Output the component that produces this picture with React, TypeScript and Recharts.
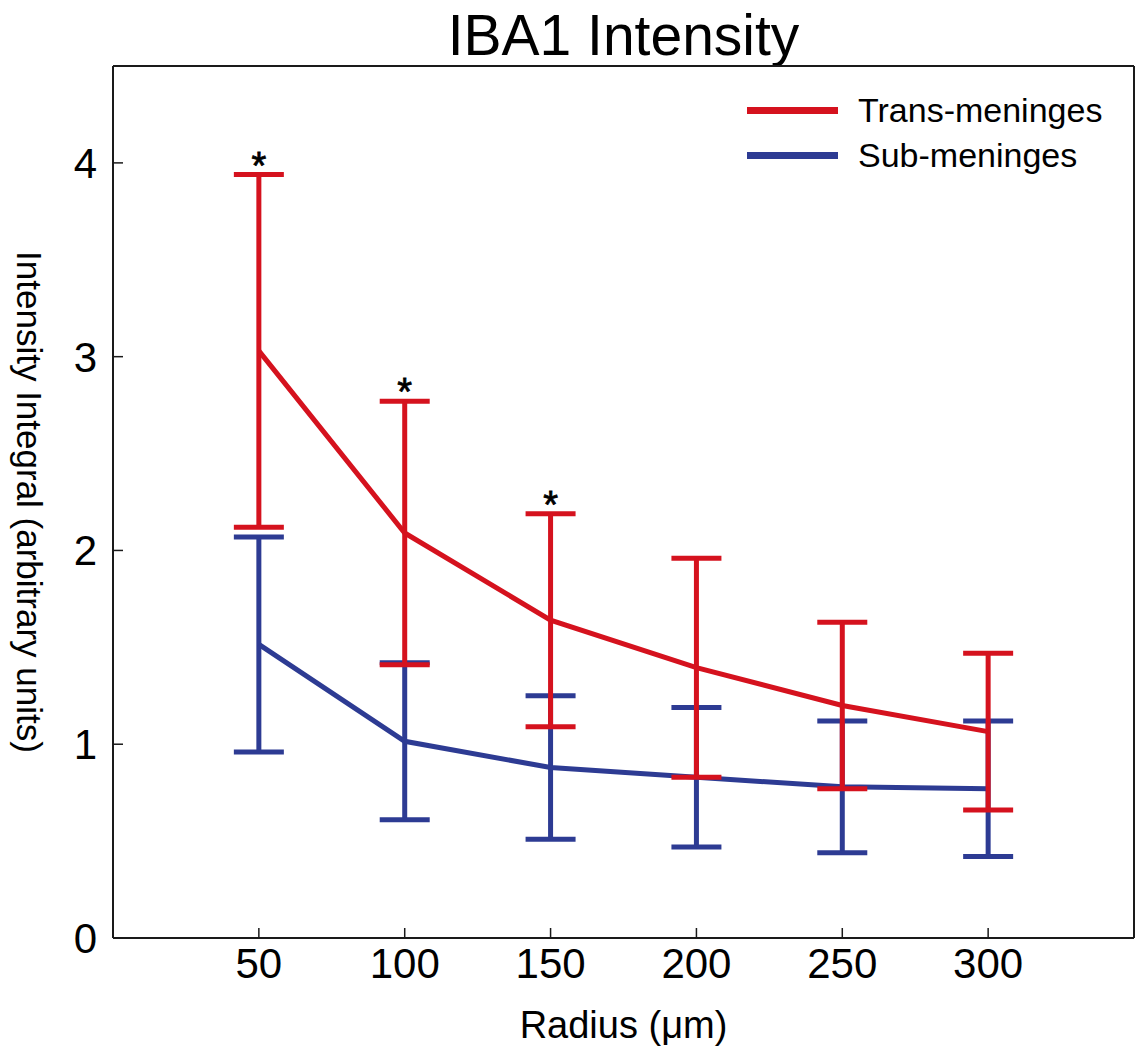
import { ErrorBar, Legend, Line, LineChart, XAxis, YAxis } from "recharts"

const radius = [50, 100, 150, 200, 250, 300]
const transMean = [3.03, 2.09, 1.64, 1.395, 1.2, 1.065]
const transSd = [0.91, 0.68, 0.55, 0.565, 0.43, 0.405]
const subMean = [1.515, 1.015, 0.88, 0.83, 0.78, 0.77]
const subSd = [0.555, 0.405, 0.37, 0.36, 0.34, 0.35]
const significant = [true, true, true, false, false, false]
const xTicks = [50, 100, 150, 200, 250, 300]
const yTicks = [0, 1, 2, 3, 4]
const legendOrder = ["Trans-meninges", "Sub-meninges"]

const data = radius.map((r, i) => ({
  radius: r,
  trans: transMean[i],
  transErr: transSd[i],
  sub: subMean[i],
  subErr: subSd[i],
  star: significant[i] ? transMean[i] + transSd[i] : null,
}))

const FONT = '"Liberation Sans", Arial, Helvetica, sans-serif'
const RED = "#d5121e"
const BLUE = "#2d3b93"
const AXIS = "#1a1a1a"

function Star(props: any) {
  const { x, y, value } = props
  if (value == null || x == null || y == null) return <g />
  return (
    <text x={x} y={y + 4} textAnchor="middle" fontSize={38} fill="#000" stroke="#000" strokeWidth={0.8}>
      *
    </text>
  )
}

function XTitle(props: any) {
  const vb = props.viewBox || { x: 113, y: 938, width: 1021, height: 111 }
  return (
    <text x={vb.x + vb.width / 2} y={vb.y + 100} textAnchor="middle" fontSize={38} fill="#000">
      Radius (μm)
    </text>
  )
}

function YTitle(props: any) {
  const vb = props.viewBox || { x: 0, y: 66, width: 113, height: 872 }
  const x = vb.x + 17
  const y = vb.y + vb.height / 2
  return (
    <text x={x} y={y} transform={`rotate(90 ${x} ${y})`} textAnchor="middle" fontSize={35} fill="#000">
      Intensity Integral (arbitrary units)
    </text>
  )
}

function LegendBox({ payload }: any) {
  const items = (payload || [])
    .filter((p: any) => legendOrder.includes(p.value))
    .sort((a: any, b: any) => legendOrder.indexOf(a.value) - legendOrder.indexOf(b.value))
  return (
    <div>
      {items.map((p: any) => (
        <div key={p.value} style={{ display: "flex", alignItems: "center", height: 45 }}>
          <div style={{ width: 91, height: 7, background: p.color }} />
          <span style={{ marginLeft: 20, fontSize: 34, lineHeight: "45px", color: "#000" }}>{p.value}</span>
        </div>
      ))}
    </div>
  )
}

export default function App() {
  const axisLine = { stroke: AXIS, strokeWidth: 2 }
  const tickLine = { stroke: AXIS, strokeWidth: 1.5 }
  return (
    <div style={{ position: "absolute", left: 0, top: 0, width: 1137, height: 1049, background: "#fff", fontFamily: FONT }}>
      <div
        style={{
          position: "absolute",
          left: 113,
          top: 2,
          width: 1021,
          textAlign: "center",
          fontSize: 57,
          lineHeight: "66px",
          color: "#000",
        }}
      >
        IBA1 Intensity
      </div>
      <LineChart width={1137} height={1049} data={data} margin={{ top: 65, right: 0, bottom: 0, left: 0 }}>
        <XAxis
          dataKey="radius"
          type="number"
          domain={[0, 350]}
          ticks={xTicks}
          interval={0}
          height={111}
          axisLine={axisLine}
          tickLine={tickLine}
          tickSize={-10}
          tickMargin={20}
          tick={{ fontSize: 42, fill: "#000" }}
          label={<XTitle />}
        />
        <XAxis
          xAxisId="top"
          orientation="top"
          type="number"
          domain={[0, 350]}
          ticks={xTicks}
          interval={0}
          height={1}
          axisLine={axisLine}
          tickLine={tickLine}
          tickSize={-10}
          tick={false}
        />
        <YAxis
          type="number"
          domain={[0, 4.5]}
          ticks={yTicks}
          interval={0}
          width={113}
          axisLine={axisLine}
          tickLine={tickLine}
          tickSize={-10}
          tickMargin={26}
          tick={{ fontSize: 42, fill: "#000" }}
          label={<YTitle />}
        />
        <YAxis
          yAxisId="r"
          orientation="right"
          type="number"
          domain={[0, 4.5]}
          ticks={yTicks}
          interval={0}
          width={3}
          axisLine={axisLine}
          tickLine={tickLine}
          tickSize={-10}
          tick={false}
        />
        <Legend
          content={LegendBox}
          layout="vertical"
          align="center"
          verticalAlign="middle"
          wrapperStyle={{ left: 747, top: 88, width: 380, height: 90 }}
        />
        <Line
          dataKey="sub"
          name="Sub-meninges"
          stroke={BLUE}
          strokeWidth={5}
          dot={false}
          activeDot={false}
          isAnimationActive={false}
        >
          <ErrorBar dataKey="subErr" width={25} stroke={BLUE} strokeWidth={5} isAnimationActive={false} />
        </Line>
        <Line
          dataKey="trans"
          name="Trans-meninges"
          stroke={RED}
          strokeWidth={5}
          dot={false}
          activeDot={false}
          isAnimationActive={false}
        >
          <ErrorBar dataKey="transErr" width={25} stroke={RED} strokeWidth={5} isAnimationActive={false} />
        </Line>
        <Line
          dataKey="star"
          name="star"
          stroke="none"
          legendType="none"
          dot={false}
          activeDot={false}
          label={Star}
          isAnimationActive={false}
        />
      </LineChart>
    </div>
  )
}
